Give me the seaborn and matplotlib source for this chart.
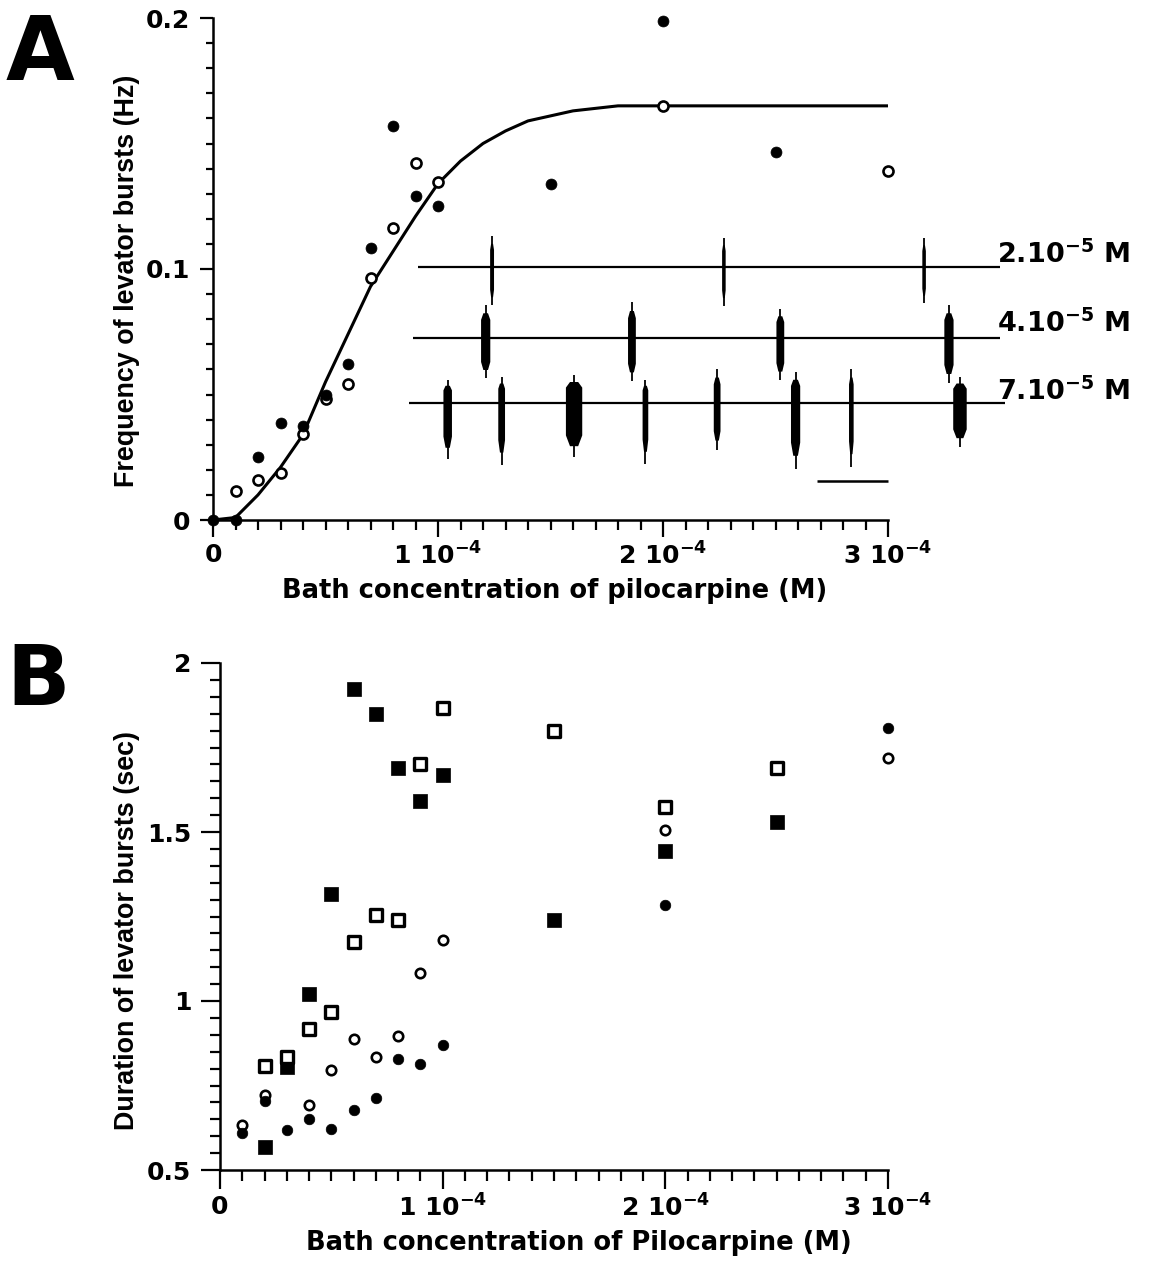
import numpy as np
import pandas as pd
import matplotlib
matplotlib.use("Agg")
import matplotlib.pyplot as plt
import seaborn as sns
from matplotlib.ticker import MultipleLocator, FixedLocator, FixedFormatter

# ------------------------------------------------------------------ data
# Panel A : frequency of levator bursts (Hz) vs pilocarpine (M)
a_filled_conc = [0.0, 1e-5, 2e-5, 3e-5, 4e-5, 5e-5, 6e-5, 7e-5, 8e-5, 9e-5, 1e-4, 1.5e-4, 2e-4, 2.5e-4]
a_filled_freq = [0.0, 0.0, 0.025, 0.0388, 0.0376, 0.0498, 0.0621, 0.1085, 0.157, 0.129, 0.125, 0.134, 0.199, 0.1467]
a_open_conc = [1e-5, 2e-5, 3e-5, 4e-5, 5e-5, 6e-5, 7e-5, 8e-5, 9e-5, 1e-4, 2e-4, 3e-4]
a_open_freq = [0.0117, 0.016, 0.0188, 0.0343, 0.0481, 0.054, 0.0963, 0.1165, 0.1423, 0.1348, 0.165, 0.139]
# fitted curve
fit_conc = [0.0, 1e-5, 2e-5, 3e-5, 4e-5, 5e-5, 6e-5, 7e-5, 8e-5, 9e-5, 1e-4, 1.1e-4, 1.2e-4,
            1.3e-4, 1.4e-4, 1.6e-4, 1.8e-4, 3e-4]
fit_freq = [0.0, 0.001, 0.010, 0.021, 0.034, 0.055, 0.074, 0.093, 0.107, 0.121, 0.134, 0.143, 0.150,
            0.155, 0.159, 0.163, 0.165, 0.165]

# Panel B : duration of levator bursts (sec)
b_sq_conc = [2e-5, 3e-5, 4e-5, 5e-5, 6e-5, 7e-5, 8e-5, 9e-5, 1e-4, 1.5e-4, 2e-4, 2.5e-4]
b_sq_filled = [0.567, 0.806, 1.020, 1.316, 1.923, 1.849, 1.690, 1.591, 1.670, 1.239, 1.445, 1.531]
b_sq_open = [0.809, 0.834, 0.918, 0.967, 1.174, 1.253, 1.241, 1.700, 1.867, 1.799, 1.573, 1.688]
b_ci_filled_conc = [1e-5, 2e-5, 3e-5, 4e-5, 5e-5, 6e-5, 7e-5, 8e-5, 9e-5, 1e-4, 2e-4, 3e-4]
b_ci_filled = [0.609, 0.705, 0.618, 0.651, 0.621, 0.678, 0.713, 0.829, 0.814, 0.869, 1.284, 1.807]
b_ci_open_conc = [1e-5, 2e-5, 4e-5, 5e-5, 6e-5, 7e-5, 8e-5, 9e-5, 1e-4, 2e-4, 3e-4]
b_ci_open = [0.633, 0.723, 0.691, 0.797, 0.889, 0.834, 0.896, 1.082, 1.181, 1.507, 1.718]

# tick labels
x_ticks = [0.0, 1e-4, 2e-4, 3e-4]
x_tick_labels = ["0", "1 10$^{-4}$", "2 10$^{-4}$", "3 10$^{-4}$"]
a_y_ticks = [0.0, 0.1, 0.2]
a_y_tick_labels = ["0", "0.1", "0.2"]
b_y_ticks = [0.5, 1.0, 1.5, 2.0]
b_y_tick_labels = ["0.5", "1", "1.5", "2"]

# inset recordings (time in s, amplitudes in arbitrary units)
trace_labels = ["2.10$^{-5}$ M", "4.10$^{-5}$ M", "7.10$^{-5}$ M"]
trace_start = [2.5, 1.1, 0.0]
trace_end = [166.5, 166.5, 167.9]
burst_times = [[23.4, 88.7, 145.1],
               [21.6, 62.8, 104.6, 152.1],
               [10.9, 26.1, 46.5, 66.6, 86.8, 108.9, 124.6, 155.2]]
burst_up = [[31, 29, 29],
            [33, 36, 29, 33],
            [23, 26, 28, 23, 34, 31, 34, 26]]
burst_down = [[38, 39, 36],
              [40, 43, 42, 45],
              [56, 62, 54, 61, 47, 66, 64, 44]]
burst_width = [[1.1, 1.0, 1.0],
               [2.6, 2.2, 2.2, 2.6],
               [2.4, 1.9, 4.6, 1.6, 1.9, 2.6, 1.3, 3.8]]
scale_bar = [115.0, 135.0]

# ------------------------------------------------------------------ style
sns.set_theme(style="ticks")
plt.rcParams['font.family'] = ['DejaVu Sans']
plt.rcParams['font.weight'] = 'bold'
plt.rcParams['mathtext.fontset'] = 'dejavusans'
plt.rcParams['mathtext.default'] = 'bf'

W, H = 1149, 1263
fig = plt.figure(figsize=(W / 100, H / 100), dpi=100)
fig.patch.set_facecolor('white')


def px_rect(l, t, r, b):
    return [l / W, 1 - b / H, (r - l) / W, (b - t) / H]


TICK_FS = 18
LABEL_FS = 18.5
YLAB_FONT = dict(family='Liberation Sans', weight='bold', size=19.4)


def style_axes(ax, yt, ytl, yminor, ylen, xlen):
    for s in ['top', 'right']:
        ax.spines[s].set_visible(False)
    for s in ['left', 'bottom']:
        ax.spines[s].set_linewidth(1.8)
        ax.spines[s].set_color('black')
    ax.set_facecolor('white')
    ax.xaxis.set_major_locator(FixedLocator(x_ticks))
    ax.xaxis.set_major_formatter(FixedFormatter(x_tick_labels))
    ax.xaxis.set_minor_locator(MultipleLocator(1e-5))
    ax.yaxis.set_major_locator(FixedLocator(yt))
    ax.yaxis.set_major_formatter(FixedFormatter(ytl))
    ax.yaxis.set_minor_locator(MultipleLocator(yminor))
    ax.tick_params(axis='x', which='major', length=xlen[0], width=1.6, direction='out',
                   labelsize=TICK_FS, pad=4, color='black', labelcolor='black')
    ax.tick_params(axis='x', which='minor', length=xlen[1], width=1.6, direction='out', color='black')
    ax.tick_params(axis='y', which='major', length=ylen[0], width=1.6, direction='out',
                   labelsize=TICK_FS, pad=7, color='black', labelcolor='black')
    ax.tick_params(axis='y', which='minor', length=ylen[1], width=1.6, direction='out', color='black')
    ax.grid(False)


# ------------------------------------------------------------------ panel A
axA = fig.add_axes(px_rect(213, 18, 888, 520))
sns.lineplot(x=fit_conc, y=fit_freq, ax=axA, color='black', linewidth=2.2,
             estimator=None, sort=False, zorder=2)
sns.scatterplot(x=a_open_conc, y=a_open_freq, ax=axA, color='white', edgecolor='black',
                linewidth=1.9, s=52, zorder=3, clip_on=False)
sns.scatterplot(x=a_filled_conc, y=a_filled_freq, ax=axA, color='black', edgecolor='black',
                linewidth=0.5, s=62, zorder=4, clip_on=False)
axA.set_xlim(0, 3e-4)
axA.set_ylim(0, 0.2)
style_axes(axA, a_y_ticks, a_y_tick_labels, 0.01, (9.4, 5.0), (12.2, 7.2))
axA.set_xlabel("Bath concentration of pilocarpine (M)", fontsize=LABEL_FS, fontweight='bold', color='black')
axA.xaxis.label.set_va('baseline')
axA.xaxis.set_label_coords((555 - 213) / 675, (520 - 598) / 502)
axA.set_ylabel("Frequency of levator bursts (Hz)", fontdict=YLAB_FONT, color='black')
axA.yaxis.label.set_va('baseline')
axA.yaxis.set_label_coords((134 - 213) / 675, (520 - 281) / 502)

# inset recordings
axI = fig.add_axes(px_rect(400, 225, 1010, 490))
axI.set_xlim((400 - 409) / 3.55, (1010 - 409) / 3.55)
axI.set_ylim(265, 0)
axI.axis('off')
trace_offsets = [42, 113, 178]
label_baselines = [38, 107, 175]
for k in range(3):
    base = trace_offsets[k]
    axI.plot([trace_start[k], trace_end[k]], [base, base], color='black', lw=1.6, solid_capstyle='butt')
    for t, u, d, w in zip(burst_times[k], burst_up[k], burst_down[k], burst_width[k]):
        # thin spikes reaching the full extent
        axI.vlines(t, base - u, base + d, color='black', lw=1.3)
        # dense core of the burst (spindle shaped)
        px_ = [t - w / 2, t - w / 2, t - w / 4, t + w / 4, t + w / 2, t + w / 2, t + w / 4, t - w / 4]
        py_ = [base - 0.55 * u, base + 0.6 * d, base + 0.8 * d, base + 0.8 * d,
               base + 0.6 * d, base - 0.55 * u, base - 0.75 * u, base - 0.75 * u]
        axI.fill(px_, py_, color='black', lw=0)
    axI.text((997 - 409) / 3.55, label_baselines[k], trace_labels[k], fontsize=19.5,
             fontweight='bold', ha='left', va='baseline', color='black')
axI.plot(scale_bar, [256, 256], color='black', lw=1.8, solid_capstyle='butt')

# ------------------------------------------------------------------ panel B
axB = fig.add_axes(px_rect(220, 663, 888, 1170))
sns.scatterplot(x=b_sq_conc, y=b_sq_filled, ax=axB, marker='s', color='black', edgecolor='black',
                linewidth=0.5, s=100, zorder=3, clip_on=False)
sns.scatterplot(x=b_sq_conc, y=b_sq_open, ax=axB, marker='s', color='white', edgecolor='black',
                linewidth=2.4, s=82, zorder=3, clip_on=False)
sns.scatterplot(x=b_ci_open_conc, y=b_ci_open, ax=axB, color='white', edgecolor='black',
                linewidth=1.9, s=46, zorder=3, clip_on=False)
sns.scatterplot(x=b_ci_filled_conc, y=b_ci_filled, ax=axB, color='black', edgecolor='black',
                linewidth=0.5, s=58, zorder=4, clip_on=False)
axB.set_xlim(0, 3e-4)
axB.set_ylim(0.5, 2.0)
style_axes(axB, b_y_ticks, b_y_tick_labels, 0.05, (13.7, 7.2), (13.7, 7.7))
axB.set_xlabel("Bath concentration of Pilocarpine (M)", fontsize=LABEL_FS, fontweight='bold', color='black')
axB.xaxis.label.set_va('baseline')
axB.xaxis.set_label_coords((579 - 220) / 668, (1170 - 1250) / 507)
axB.set_ylabel("Duration of levator bursts (sec)", fontdict=YLAB_FONT, color='black')
axB.yaxis.label.set_va('baseline')
axB.yaxis.set_label_coords((134 - 220) / 668, (1170 - 931) / 507)

# panel letters
fig.text(6 / W, 1 - 80 / H, "A", fontsize=64, fontweight='bold', va='baseline', ha='left', color='black')
fig.text(6 / W, 1 - 705 / H, "B", fontsize=60, fontweight='bold', va='baseline', ha='left', color='black')

fig.savefig("out.png", dpi=100, facecolor='white')
